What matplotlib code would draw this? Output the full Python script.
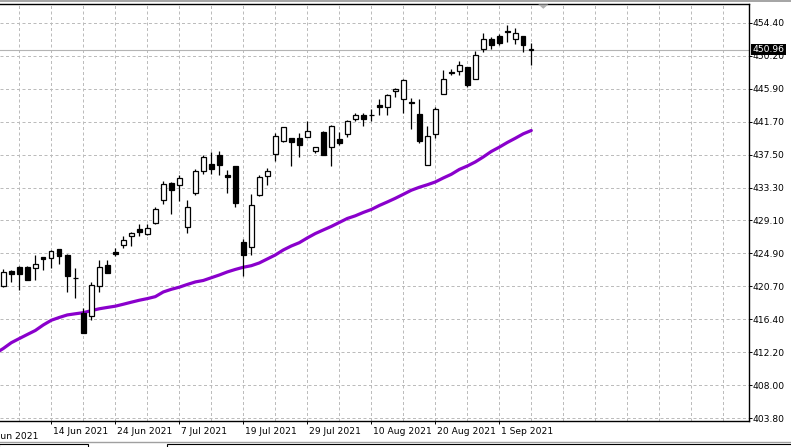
import matplotlib
matplotlib.use("Agg")
import matplotlib.pyplot as plt
import numpy as np
from matplotlib.patches import Rectangle, Polygon
from matplotlib.lines import Line2D

# ---------------- data ----------------
dates = ["2021-06-04", "2021-06-07", "2021-06-08", "2021-06-09", "2021-06-10", "2021-06-11",
         "2021-06-14", "2021-06-15", "2021-06-16", "2021-06-17", "2021-06-18", "2021-06-21",
         "2021-06-22", "2021-06-23", "2021-06-24", "2021-06-25", "2021-06-28", "2021-06-29",
         "2021-06-30", "2021-07-01", "2021-07-02", "2021-07-06", "2021-07-07", "2021-07-08",
         "2021-07-09", "2021-07-12", "2021-07-13", "2021-07-14", "2021-07-15", "2021-07-16",
         "2021-07-19", "2021-07-20", "2021-07-21", "2021-07-22", "2021-07-23", "2021-07-26",
         "2021-07-27", "2021-07-28", "2021-07-29", "2021-07-30", "2021-08-02", "2021-08-03",
         "2021-08-04", "2021-08-05", "2021-08-06", "2021-08-09", "2021-08-10", "2021-08-11",
         "2021-08-12", "2021-08-13", "2021-08-16", "2021-08-17", "2021-08-18", "2021-08-19",
         "2021-08-20", "2021-08-23", "2021-08-24", "2021-08-25", "2021-08-26", "2021-08-27",
         "2021-08-30", "2021-08-31", "2021-09-01", "2021-09-02", "2021-09-03", "2021-09-07",
         "2021-09-08"]

opens = [420.77, 422.65, 423.16, 423.16, 422.99, 424.39, 424.35, 425.42, 424.69, 421.79,
         417.23, 416.85, 420.77, 423.41, 425.03, 425.97, 427.16, 428.02, 427.33, 428.78,
         431.68, 433.90, 433.69, 428.31, 432.58, 435.48, 436.33, 437.44, 434.88, 436.07,
         426.35, 425.76, 432.32, 434.79, 437.61, 439.31, 439.65, 439.65, 439.82, 437.95,
         440.42, 438.46, 439.57, 440.17, 442.13, 442.55, 442.64, 443.83, 443.58, 445.62,
         444.60, 444.26, 442.72, 436.16, 440.17, 445.28, 448.09, 448.27, 448.69, 447.24,
         451.08, 452.27, 452.70, 453.29, 452.36, 452.70, 450.99]
highs = [422.90, 422.73, 423.33, 423.24, 424.69, 424.39, 425.37, 425.42, 424.86, 422.99,
         417.87, 421.20, 424.10, 424.01, 425.54, 427.08, 427.59, 428.61, 428.70, 430.83,
         434.16, 434.07, 434.88, 431.73, 435.73, 437.44, 437.86, 437.95, 435.56, 436.07,
         426.78, 432.49, 434.88, 435.82, 440.34, 441.10, 439.65, 440.34, 441.79, 438.54,
         440.51, 441.27, 440.42, 441.96, 442.89, 442.81, 443.41, 444.69, 445.28, 446.05,
         447.24, 444.77, 444.69, 441.19, 443.58, 448.35, 448.44, 449.46, 448.78, 450.82,
         453.13, 452.53, 452.95, 454.06, 453.72, 452.70, 451.76]
lows = [420.64, 421.20, 420.26, 421.45, 421.54, 422.82, 423.07, 423.50, 419.92, 419.24,
        414.67, 416.42, 420.00, 422.39, 424.52, 425.54, 425.89, 427.16, 427.25, 428.70,
        431.26, 429.98, 431.55, 427.55, 432.32, 435.05, 435.05, 434.88, 432.66, 430.87,
        422.00, 424.73, 432.24, 433.69, 436.76, 439.14, 436.07, 437.27, 439.74, 437.69,
        437.44, 436.07, 438.72, 439.82, 441.79, 441.19, 441.87, 442.64, 442.64, 444.94,
        442.89, 440.85, 438.97, 436.16, 439.65, 445.28, 447.67, 447.75, 446.13, 447.16,
        450.65, 451.00, 451.59, 451.93, 451.68, 450.65, 448.95]
closes = [422.47, 422.22, 422.22, 421.54, 423.50, 424.22, 425.20, 424.52, 422.05, 421.71,
          414.76, 420.86, 423.16, 422.39, 424.86, 426.57, 427.51, 427.68, 428.10, 430.57,
          433.73, 432.96, 434.54, 430.87, 435.39, 437.18, 435.65, 436.24, 434.71, 431.38,
          424.65, 431.04, 434.62, 435.48, 439.91, 441.02, 439.14, 438.80, 440.59, 438.46,
          437.52, 441.19, 439.06, 441.87, 442.55, 442.13, 442.55, 443.66, 445.11, 445.88,
          447.07, 444.09, 439.23, 439.91, 443.32, 447.24, 447.92, 448.95, 446.39, 450.23,
          452.27, 451.59, 451.85, 453.21, 453.04, 451.50, 450.96]

# moving average, first value belongs to the bar before dates[0]
ma_values = [412.09, 412.73, 413.47, 414.00, 414.52, 415.03, 415.74, 416.34, 416.70, 417.02,
             417.17, 417.31, 417.57, 417.81, 417.98, 418.14, 418.39, 418.65, 418.90, 419.11,
             419.36, 419.96, 420.30, 420.57, 420.92, 421.24, 421.43, 421.78, 422.13, 422.52,
             422.84, 423.12, 423.32, 423.67, 424.18, 424.69, 425.33, 425.84, 426.26, 426.87,
             427.43, 427.89, 428.34, 428.85, 429.36, 429.70, 430.13, 430.51, 431.02, 431.47,
             431.94, 432.45, 432.97, 433.35, 433.67, 434.03, 434.54, 435.01, 435.63, 436.07,
             436.59, 437.23, 437.93, 438.48, 439.08, 439.62, 440.19, 440.61]

y_tick_labels = ["454.40", "450.20", "445.90", "441.70", "437.50", "433.30", "429.10",
                 "424.90", "420.70", "416.40", "412.20", "408.00", "403.80"]
y_top_value = 454.40
y_bottom_value = 403.80

x_tick_labels = ["2 Jun 2021", "14 Jun 2021", "24 Jun 2021", "7 Jul 2021", "19 Jul 2021",
                 "29 Jul 2021", "10 Aug 2021", "20 Aug 2021", "1 Sep 2021"]
last_price = 450.96

# ---------------- layout (pixels) ----------------
W, H = 791, 447
PX_TOP, PX_BOTTOM, PX_RIGHT = 4.2, 420.5, 749.0
GRID_TOP_PX, GRID_BOTTOM_PX = 22.7, 418.3
BAR_PX = 8.0
FIRST_BAR_PX = 3.3

plt.rcParams['font.family'] = ['DejaVu Sans']
fig = plt.figure(figsize=(W / 100, H / 100), dpi=100)
fig.patch.set_facecolor('white')
ax = fig.add_axes([0, 1 - PX_BOTTOM / H, PX_RIGHT / W, (PX_BOTTOM - PX_TOP) / H])

n_y = len(y_tick_labels)
y_ticks = np.linspace(y_top_value, y_bottom_value, n_y)
val_per_px = (y_top_value - y_bottom_value) / (GRID_BOTTOM_PX - GRID_TOP_PX)
ax.set_ylim(y_bottom_value - (PX_BOTTOM - GRID_BOTTOM_PX) * val_per_px,
            y_top_value + (GRID_TOP_PX - PX_TOP) * val_per_px)
ax.set_xlim(-FIRST_BAR_PX / BAR_PX, (PX_RIGHT - FIRST_BAR_PX) / BAR_PX)

grid_color = '#bcbcbc'
dash = (0, (3, 2.5))
# horizontal grid
for yv in y_ticks:
    ax.axhline(yv, color=grid_color, lw=0.72, ls=dash, zorder=0)
# vertical grid, every 4 bars
for xv in np.arange(2, 94, 4):
    ax.axvline(xv, color=grid_color, lw=0.72, ls=dash, zorder=0)

# last price line
ax.axhline(last_price, color='#b4b4b4', lw=0.8, zorder=0.5)

# moving average
ma_x = np.arange(-1, -1 + len(ma_values))
ax.plot(ma_x, ma_values, color='#8a00cc', lw=2.3, solid_capstyle='round', zorder=1)

# candles
idx = np.arange(len(dates))
o = np.array(opens); c = np.array(closes); h = np.array(highs); l = np.array(lows)
ax.vlines(idx, l, h, color='black', lw=0.9, zorder=2)
up = c >= o
ax.bar(idx[up], (c - o)[up], bottom=o[up], width=0.55, color='white',
       edgecolor='black', linewidth=0.9, zorder=3)
ax.bar(idx[~up], (o - c)[~up], bottom=c[~up], width=0.55, color='black',
       edgecolor='black', linewidth=0.9, zorder=3)

# axes styling
for s in ['left']:
    ax.spines[s].set_visible(False)
for s in ['right', 'top', 'bottom']:
    ax.spines[s].set_color('black')
    ax.spines[s].set_linewidth(1.0)

ax.yaxis.tick_right()
ax.set_yticks(y_ticks)
ax.set_yticklabels(y_tick_labels)
ax.tick_params(axis='y', which='major', length=2.2, width=0.7, pad=0.6,
               labelsize=6.6, colors='black')

tick_pos = -2 + 8 * np.arange(len(x_tick_labels))
visible = tick_pos >= ax.get_xlim()[0]
ax.set_xticks(tick_pos[visible])
ax.set_xticklabels([t for t, v in zip(x_tick_labels, visible) if v])
ax.tick_params(axis='x', which='major', length=2.4, width=0.7, pad=2.2,
               labelsize=6.6, colors='black')
for lab in ax.get_xticklabels():
    lab.set_horizontalalignment('left')
# label whose tick lies left of the visible range
for t, p, v in zip(x_tick_labels, tick_pos, visible):
    if not v:
        ax.text(p + 0.22, -0.028, t, transform=ax.get_xaxis_transform(),
                ha='left', va='top', fontsize=6.6, clip_on=False)

# shift the x tick labels slightly right of their tick
import matplotlib.transforms as mtransforms
offset = mtransforms.ScaledTranslation(1.5 / 100, 0, fig.dpi_scale_trans)
for lab in ax.get_xticklabels():
    lab.set_transform(lab.get_transform() + offset)

# last price box
y_last_px = GRID_TOP_PX + (y_top_value - last_price) / val_per_px
fig.add_artist(Rectangle((750.5 / W, 1 - (y_last_px + 5.8) / H), 35.5 / W, 11.6 / H,
                         transform=fig.transFigure, facecolor='black', edgecolor='none',
                         zorder=5))
fig.text(768.2 / W, 1 - y_last_px / H, f"{last_price:.2f}", color='white', fontsize=6.6,
         ha='center', va='center', zorder=6)

# top frame band and shift marker
fig.add_artist(Rectangle((0, 1 - 1.6 / H), 1, 1.6 / H, transform=fig.transFigure,
                         facecolor='#a6a6a6', edgecolor='none', zorder=5))
fig.add_artist(Polygon([[538.3 / W, 1 - 4.4 / H], [548.3 / W, 1 - 4.4 / H],
                        [543.3 / W, 1 - 8.8 / H]], closed=True, transform=fig.transFigure,
                       facecolor='#b0b0b0', edgecolor='none', zorder=5))

# bottom tab strip
fig.add_artist(Line2D([0, 1], [1 - 441.5 / H, 1 - 441.5 / H], transform=fig.transFigure,
                      color='#a0a0a0', lw=1.0))
fig.add_artist(Rectangle((-1 / W, 1 - 448 / H), 89 / W, 4.2 / H, transform=fig.transFigure,
                         facecolor='white', edgecolor='black', lw=0.8))
fig.add_artist(Rectangle((167 / W, 1 - 448 / H), 625 / W, 4.2 / H, transform=fig.transFigure,
                         facecolor='white', edgecolor='black', lw=0.8))

fig.savefig('out.png', dpi=100, facecolor='white')
